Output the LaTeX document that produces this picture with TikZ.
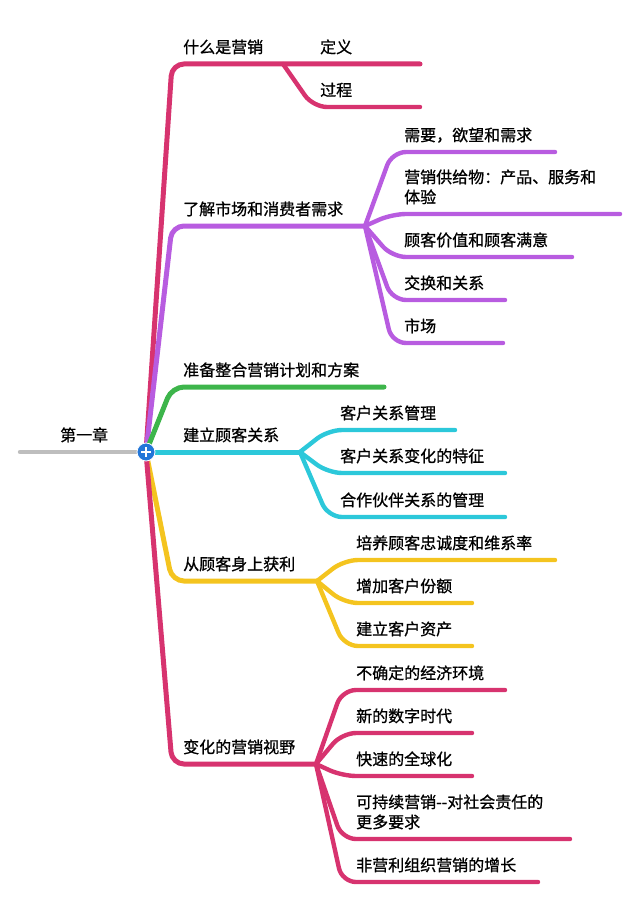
\documentclass[tikz,border=0pt]{standalone}
\usepackage{fontspec}
\setmainfont{Noto Sans CJK SC}[FakeBold=0.9]
\usepackage{tikz}
\definecolor{rose}{HTML}{D7336F}
\definecolor{orchid}{HTML}{B85CE0}
\definecolor{leaf}{HTML}{3DB54B}
\definecolor{aqua}{HTML}{2CC8DA}
\definecolor{amber}{HTML}{F4C41F}
\definecolor{ashgray}{HTML}{BEBEBE}
\definecolor{hubblue}{HTML}{2276D8}

\begin{document}
\begin{tikzpicture}[x=1pt, y=-1pt, line cap=round,
		branch/.style={line width=5pt, rounded corners=12pt},
		twig/.style={line width=4.4pt, rounded corners=14pt},
		topic/.style={anchor=base west, inner sep=0pt, font=\fontsize{16}{20}\selectfont}]
		\useasboundingbox (0,0) rectangle (640,904);
		\coordinate (hc) at (146,452);
		\coordinate (rs) at (20,452);
		\draw[ashgray, line width=4.4pt] (rs) -- (hc);
		\node[topic] (root) at (60,441) {第一章};
		% 什么是营销
		\coordinate (k1) at (172,64);
		\coordinate (f1) at (283,64);
		\coordinate (e1) at (420,64);
		\coordinate (k1b) at (313,107);
		\coordinate (e1b) at (420,107);
		\draw[branch, rose] (hc) -- (k1) -- (e1);
		\draw[twig, rose] (f1) -- (k1b) -- (e1b);
		\node[topic] (t1) at (183,53) {什么是营销};
		\node[topic] (t1a) at (320,53) {定义};
		\node[topic] (t1b) at (320,96) {过程};
		% 了解市场和消费者需求
		\coordinate (k2) at (172,226);
		\coordinate (f2) at (365,226);
		\draw[branch, orchid] (hc) -- (k2) -- (f2);
		\foreach \y/\e/\n in {152/555/a, 214/620/b, 257/572/c, 300/505/d, 343/503/e} {
			\coordinate (k2\n) at (392,\y);
			\coordinate (e2\n) at (\e,\y);
			\draw[twig, orchid] (f2) -- (k2\n) -- (e2\n);
		}
		\node[topic] (t2) at (183,215) {了解市场和消费者需求};
		\node[topic] (t2a) at (404,141) {需要，欲望和需求};
		\node[topic, align=left] (t2b) at (404,203) {营销供给物：产品、服务和\\体验};
		\node[topic] (t2c) at (404,246) {顾客价值和顾客满意};
		\node[topic] (t2d) at (404,289) {交换和关系};
		\node[topic] (t2e) at (404,332) {市场};
		% 准备整合营销计划和方案
		\coordinate (k3) at (172,387);
		\coordinate (e3) at (384,387);
		\draw[branch, leaf] (hc) -- (k3) -- (e3);
		\node[topic] (t3) at (183,376) {准备整合营销计划和方案};
		% 建立顾客关系
		\coordinate (f4) at (300,452);
		\draw[branch, aqua] (hc) -- (f4);
		\foreach \y/\e/\n in {430/455/a, 473/505/b, 517/505/c} {
			\coordinate (k4\n) at (328,\y);
			\coordinate (e4\n) at (\e,\y);
			\draw[twig, aqua] (f4) -- (k4\n) -- (e4\n);
		}
		\node[topic] (t4) at (183,441) {建立顾客关系};
		\node[topic] (t4a) at (340,419) {客户关系管理};
		\node[topic] (t4b) at (340,462) {客户关系变化的特征};
		\node[topic] (t4c) at (340,506) {合作伙伴关系的管理};
		% 从顾客身上获利
		\coordinate (k5) at (172,581);
		\coordinate (f5) at (317,581);
		\draw[branch, amber] (hc) -- (k5) -- (f5);
		\foreach \y/\e/\n in {560/555/a, 603/472/b, 646/472/c} {
			\coordinate (k5\n) at (344,\y);
			\coordinate (e5\n) at (\e,\y);
			\draw[twig, amber] (f5) -- (k5\n) -- (e5\n);
		}
		\node[topic] (t5) at (183,570) {从顾客身上获利};
		\node[topic] (t5a) at (356,549) {培养顾客忠诚度和维系率};
		\node[topic] (t5b) at (356,592) {增加客户份额};
		\node[topic] (t5c) at (356,635) {建立客户资产};
		% 变化的营销视野
		\coordinate (k6) at (172,764);
		\coordinate (f6) at (316,764);
		\draw[branch, rose] (hc) -- (k6) -- (f6);
		\foreach \y/\e/\n in {690/505/a, 733/472/b, 776/472/c, 839/570/d, 882/538/e} {
			\coordinate (k6\n) at (342,\y);
			\coordinate (e6\n) at (\e,\y);
			\draw[twig, rose] (f6) -- (k6\n) -- (e6\n);
		}
		\node[topic] (t6) at (183,753) {变化的营销视野};
		\node[topic] (t6a) at (356,679) {不确定的经济环境};
		\node[topic] (t6b) at (356,722) {新的数字时代};
		\node[topic] (t6c) at (356,765) {快速的全球化};
		\node[topic, align=left] (t6d) at (356,828) {可持续营销-\kern0pt-对社会责任的\\更多要求};
		\node[topic] (t6e) at (356,871) {非营利组织营销的增长};
		% hub
		\node[circle, fill=hubblue, draw=white, line width=0.8pt, minimum size=18pt, inner sep=0pt,
			path picture={\draw[white, line width=2.6pt, line cap=butt]
				(path picture bounding box.center) ++(-5,0) -- ++(10,0)
				(path picture bounding box.center) ++(0,-5) -- ++(0,10);}] (hub) at (hc) {};
		\end{tikzpicture}
\end{document}
